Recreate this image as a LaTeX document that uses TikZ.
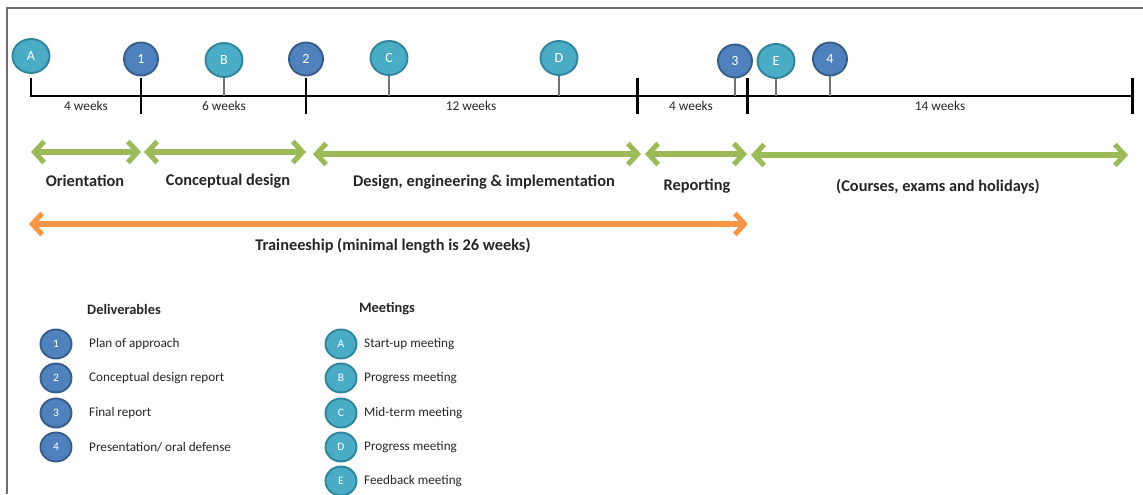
\documentclass[tikz,border=0pt]{standalone}
\usepackage{fontspec}
\setmainfont{Carlito}
\usetikzlibrary{arrows.meta,shapes.geometric}
\definecolor{delfill}{HTML}{4F81BD}
\definecolor{deldraw}{HTML}{385D8A}
\definecolor{meetfill}{HTML}{4BACC6}
\definecolor{meetdraw}{HTML}{31859C}
\definecolor{phasegreen}{HTML}{9BBB59}
\definecolor{trainorange}{HTML}{F79646}
\definecolor{framegray}{HTML}{6E6E6E}
\definecolor{txtgray}{HTML}{262626}

\begin{document}
\begin{tikzpicture}
[x=0.02cm,y=-0.02cm,%
  deliv/.style={shape=ellipse,draw=deldraw,fill=delfill,line width=1.1pt,
    text=white,minimum width=0.68cm,minimum height=0.66cm,inner sep=0pt,
    font=\fontsize{8}{9}\selectfont},%
  meet/.style={deliv,draw=meetdraw,fill=meetfill,minimum width=0.74cm,minimum height=0.68cm},%
  legend/.style={minimum width=0.62cm,minimum height=0.58cm,font=\fontsize{6.5}{7}\selectfont},%
  bigtick/.style={line width=1.7pt},%
  smalltick/.style={draw=black!55,line width=0.8pt},%
  weeks/.style={text=txtgray,font=\fontsize{7.6}{9}\selectfont},%
  phase/.style={phasegreen,line width=2.9pt,
    {Straight Barb[length=5.5pt,width=12pt]}-{Straight Barb[length=5.5pt,width=12pt]}},%
  phaselabel/.style={text=txtgray,font=\bfseries\fontsize{9.3}{11}\selectfont},%
  item/.style={anchor=west,text=txtgray,font=\fontsize{7.5}{9}\selectfont},%
  head/.style={text=txtgray,font=\bfseries\fontsize{8.2}{10}\selectfont}]
\useasboundingbox (0,0) rectangle (1143,494);
% frame
\draw[framegray,line width=0.8pt] (7,494) -- (7,8) -- (1143,8);

% timeline
\coordinate (k0) at (31,96);
\coordinate (k1) at (141,96);
\coordinate (k2) at (306,96);
\coordinate (k3) at (637,96);
\coordinate (k4) at (747,96);
\coordinate (k5) at (1132,96);
\draw[bigtick] (31,78) -- (k0) -- (k5);
\draw[bigtick] (141,78) -- (141,114);
\draw[bigtick] (306,78) -- (306,114);
\draw[bigtick] (637,78) -- (637,114);
\draw[bigtick] (747,78) -- (747,114);
\draw[bigtick] (1132,78) -- (1132,114);

% milestones
\node[meet] (mA) at (31,56) {A};
\node[deliv] (d1) at (141,59) {1};
\node[meet] (mB) at (224,60) {B};
\node[deliv] (d2) at (306,59) {2};
\node[meet] (mC) at (389,58) {C};
\node[meet] (mD) at (559,58) {D};
\node[deliv] (d3) at (735,61) {3};
\node[meet] (mE) at (776,61) {E};
\node[deliv] (d4) at (830,59) {4};
\draw[smalltick] (mB.south) -- (mB.south |- k0);
\draw[smalltick] (mC.south) -- (mC.south |- k0);
\draw[smalltick] (mD.south) -- (mD.south |- k0);
\draw[smalltick] (d3.south) -- (d3.south |- k0);
\draw[smalltick] (mE.south) -- (mE.south |- k0);
\draw[smalltick] (d4.south) -- (d4.south |- k0);

% durations
\node[weeks] (w1) at (86,106) {4 weeks};
\node[weeks] (w2) at (224,106) {6 weeks};
\node[weeks] (w3) at (471,106) {12 weeks};
\node[weeks] (w4) at (691,106) {4 weeks};
\node[weeks] (w5) at (940,106) {14 weeks};

% phases
\draw[phase] (31,152) -- (141,152);
\draw[phase] (144,152) -- (306,152);
\draw[phase] (313,154) -- (641,154);
\draw[phase] (645,154) -- (747,154);
\draw[phase] (751,155) -- (1128,155);
\node[phaselabel] (p1) at (85,181) {Orientation};
\node[phaselabel] (p2) at (228,181) {Conceptual design};
\node[phaselabel] (p3) at (484,182) {Design, engineering \& implementation};
\node[phaselabel] (p4) at (697,186) {Reporting};
\node[phaselabel] (p5) at (938,187) {(Courses, exams and holidays)};
\draw[phase,trainorange] (29,224) -- (748,224);
\node[phaselabel] (tr) at (393,246) {Traineeship (minimal length is 26 weeks)};

% legend
\node[head] (hd) at (124,309) {Deliverables};
\node[deliv,legend] (l1) at (56,344) {1};
\node[deliv,legend] (l2) at (56,378) {2};
\node[deliv,legend] (l3) at (56,413) {3};
\node[deliv,legend] (l4) at (56,447) {4};
\node[item] (t1) at (83,344) {Plan of approach};
\node[item] (t2) at (83,378) {Conceptual design report};
\node[item] (t3) at (83,413) {Final report};
\node[item] (t4) at (83,447) {Presentation/ oral defense};

\node[head] (hm) at (387,309) {Meetings};
\node[meet,legend] (lA) at (341,344) {A};
\node[meet,legend] (lB) at (341,378) {B};
\node[meet,legend] (lC) at (341,413) {C};
\node[meet,legend] (lD) at (341,447) {D};
\node[meet,legend] (lE) at (341,481) {E};
\node[item] (tA) at (358,344) {Start-up meeting};
\node[item] (tB) at (358,378) {Progress meeting};
\node[item] (tC) at (358,413) {Mid-term meeting};
\node[item] (tD) at (358,447) {Progress meeting};
\node[item] (tE) at (358,481) {Feedback meeting};
\end{tikzpicture}
\end{document}
